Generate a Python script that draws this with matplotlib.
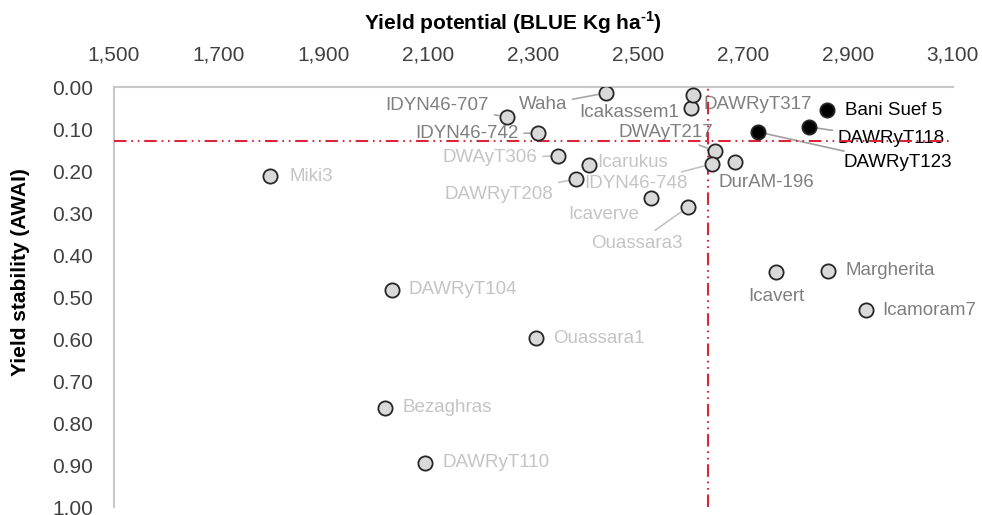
import numpy as np
import matplotlib
matplotlib.use("Agg")
import matplotlib.pyplot as plt

plt.rcParams["font.family"] = ["Liberation Sans", "DejaVu Sans"]
plt.rcParams["mathtext.fontset"] = "custom"
plt.rcParams["mathtext.rm"] = "Liberation Sans:bold"
plt.rcParams["mathtext.bf"] = "Liberation Sans:bold"

# genotypes: yield potential (BLUE, kg/ha) and stability index (AWAI)
names = ["Miki3", "DAWRyT104", "Bezaghras", "DAWRyT110", "Ouassara1",
         "IDYN46-707", "IDYN46-742", "Waha", "Icakassem1", "DAWRyT317",
         "DWAyT217", "DWAyT306", "Icarukus", "DAWRyT208", "IDYN46-748",
         "Icaverve", "Ouassara3", "DurAM-196", "Bani Suef 5", "DAWRyT118",
         "DAWRyT123", "Icavert", "Margherita", "Icamoram7"]
yield_blue = [1797, 2030, 2018, 2094, 2306,
              2250, 2310, 2439, 2601, 2605,
              2647, 2348, 2407, 2382, 2641,
              2525, 2595, 2685, 2860, 2826,
              2729, 2763, 2862, 2934]
awai = [0.212, 0.483, 0.764, 0.895, 0.598,
        0.071, 0.110, 0.014, 0.050, 0.019,
        0.152, 0.164, 0.186, 0.219, 0.183,
        0.264, 0.286, 0.179, 0.055, 0.095,
        0.107, 0.440, 0.438, 0.531]
# 0 = low yield & unstable, 1 = one criterion met, 2 = both met
group = [0, 0, 0, 0, 0,
         1, 1, 1, 1, 1,
         1, 0, 0, 0, 0,
         0, 0, 1, 2, 2,
         2, 1, 1, 1]

mean_yield = 2633
mean_awai = 0.129

# label offsets in pixels (dx, dy), alignment, leader line
label_pos = {
    "Miki3": (20, 0, "left", False),
    "DAWRyT104": (17, 0, "left", False),
    "Bezaghras": (17, 0, "left", False),
    "DAWRyT110": (17, 0, "left", False),
    "Ouassara1": (17, 0, "left", False),
    "IDYN46-707": (-18, 11, "right", True),
    "IDYN46-742": (-20, 0, "right", True),
    "Waha": (-39, -12, "right", True),
    "Icakassem1": (-12, -4, "right", False),
    "DAWRyT317": (10, -9, "left", False),
    "DWAyT217": (-2, 18, "right", True),
    "DWAyT306": (-21, -2, "right", True),
    "Icarukus": (8, 3, "left", False),
    "DAWRyT208": (-23, -15, "right", True),
    "IDYN46-748": (-24, -20, "right", True),
    "Icaverve": (-47, -17, "center", False),
    "Ouassara3": (-51, -36, "center", True),
    "DurAM-196": (-17, -20, "left", False),
    "Bani Suef 5": (18, 0, "left", False),
    "DAWRyT118": (29, -12, "left", True),
    "DAWRyT123": (85, -31, "left", True),
    "Icavert": (0, -25, "center", False),
    "Margherita": (18, 0, "left", False),
    "Icamoram7": (17, 0, "left", False),
}

face = {0: "#d9d9d9", 1: "#d9d9d9", 2: "#000000"}
text_col = {0: "#c4c4c4", 1: "#7f7f7f", 2: "#000000"}
lead_col = {0: "#c4c4c4", 1: "#a6a6a6", 2: "#a0a0a0"}

fig = plt.figure(figsize=(9.82, 5.15), dpi=100)
ax = fig.add_axes([0.116, 0.0155, 0.854, 0.8155])

red = "#d9263a"
dash = (0, (6, 2.3, 0.8, 2.3, 0.8, 2.3))
ax.axhline(mean_awai, color=red, lw=1.5, ls=dash, zorder=4)
ax.axvline(mean_yield, color=red, lw=1.5, ls=dash, zorder=4)

for n, x, y, g in zip(names, yield_blue, awai, group):
    ax.scatter(x, y, s=105, facecolor=face[g], edgecolor="#262626",
               linewidth=1.3, zorder=5)
    dx, dy, ha, lead = label_pos[n]
    arrow = None
    if lead:
        arrow = dict(arrowstyle="-", color=lead_col[g], lw=1.2,
                     shrinkA=2, shrinkB=6)
    ax.annotate(n, (x, y), xytext=(dx, dy), textcoords="offset pixels",
                ha=ha, va="center", fontsize=13.5, color=text_col[g],
                arrowprops=arrow, zorder=3)

ax.set_xlim(1500, 3100)
ax.set_ylim(1.0, 0.0)
ax.set_xticks(np.arange(1500, 3101, 200))
ax.set_yticks(np.arange(0, 1.01, 0.1))
ax.xaxis.set_major_formatter(matplotlib.ticker.StrMethodFormatter("{x:,.0f}"))
ax.yaxis.set_major_formatter(matplotlib.ticker.StrMethodFormatter("{x:.2f}"))
ax.xaxis.tick_top()
ax.tick_params(length=0, labelsize=15, labelcolor="#404040")
ax.tick_params(axis="x", pad=16)
ax.tick_params(axis="y", pad=15)

for side in ["right", "bottom"]:
    ax.spines[side].set_visible(False)
for side in ["top", "left"]:
    ax.spines[side].set_color("#c8c8c8")
    ax.spines[side].set_linewidth(1.5)

fig.text(513 / 982, 1 - 23 / 515, r"Yield potential (BLUE Kg ha$^{\text{-}1}$)",
         ha="center", va="center", fontsize=15, fontweight="bold")
fig.text(21 / 982, 1 - 272 / 515, "Yield stability (AWAI)", rotation=90,
         ha="center", va="center", fontsize=15, fontweight="bold")

fig.savefig("out.png", dpi=100)
